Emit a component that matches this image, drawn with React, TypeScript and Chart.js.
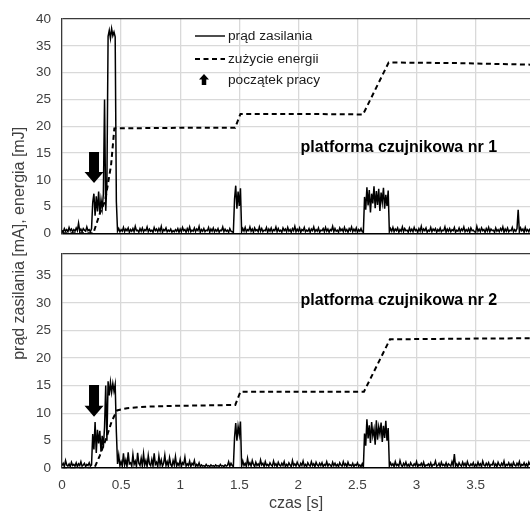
import React, { useEffect, useRef } from 'react';
import { Chart, registerables } from 'chart.js';

Chart.register(...registerables);

// ---------- DATA ----------
const SAMPLE_PERIOD_S = 0.01;

// supply current, platform 1 [mA], one sample every 10 ms from t = 0
const currentTop = [
  0.6, 0.2, 0.9, 0.4, 0.7, 0.3, 1.1, 0.5, 0.8, 0.3,
  0.7, 0.4, 1.0, 0.5, 1.9, 0.4, 0.8, 0.3, 0.9, 0.6,
  0.4, 1.2, 0.5, 0.7, 0.3, 0.9, 5.8, 7.4, 3.3, 6.9,
  4.1, 7.8, 3.6, 6.3, 4.6, 7.3, 25.0, 4.2, 9.5, 36.8,
  37.9, 36.4, 38.2, 36.9, 37.6, 36.7, 5.9, 0.4, 0.9, 0.3,
  0.7, 0.4, 1.1, 0.3, 0.8, 0.5, 1.0, 0.2, 0.7, 0.4,
  0.9, 0.3, 1.3, 0.5, 0.6, 0.2, 0.9, 0.4, 1.0, 0.3,
  0.7, 0.5, 1.2, 0.3, 0.8, 0.4, 0.6, 0.2, 1.1, 0.5,
  0.8, 0.3, 0.9, 0.4, 1.3, 0.2, 0.7, 0.5, 1.0, 0.3,
  0.6, 0.4, 0.8, 0.2, 0.5, 0.3, 0.7, 0.4, 0.9, 0.2,
  0.8, 0.3, 1.1, 0.5, 0.7, 0.2, 0.9, 0.4, 1.2, 0.3,
  0.6, 0.4, 1.0, 0.3, 0.8, 0.5, 1.3, 0.2, 0.7, 0.4,
  0.9, 0.3, 0.6, 0.5, 1.1, 0.2, 0.8, 0.4, 1.0, 0.3,
  0.7, 0.4, 0.9, 0.2, 0.6, 0.5, 1.2, 0.3, 0.8, 0.4,
  0.6, 0.2, 0.9, 0.4, 0.3, 0.2, 6.4, 8.9, 4.6, 7.8,
  5.1, 8.4, 0.3, 0.9, 0.4, 1.1, 0.3, 0.7, 0.5, 1.2,
  0.4, 0.8, 0.2, 1.0, 0.5, 0.7, 0.3, 1.2, 0.4, 0.9,
  0.3, 0.6, 0.5, 1.1, 0.2, 0.8, 0.4, 1.0, 0.3, 0.7,
  0.5, 1.2, 0.3, 0.9, 0.4, 0.6, 0.2, 1.0, 0.5, 0.8,
  0.3, 1.1, 0.4, 0.7, 0.2, 0.9, 0.5, 1.3, 0.3, 0.8,
  0.4, 1.0, 0.2, 0.7, 0.5, 1.1, 0.3, 0.6, 0.4, 0.9,
  0.2, 0.8, 0.5, 1.2, 0.3, 0.7, 0.4, 1.0, 0.2, 0.6,
  0.5, 0.9, 0.3, 1.1, 0.4, 0.8, 0.2, 0.7, 0.5, 1.3,
  0.3, 0.9, 0.4, 0.6, 0.2, 1.0, 0.5, 0.8, 0.3, 1.1,
  0.4, 0.7, 0.2, 0.9, 0.5, 1.2, 0.3, 0.8, 0.4, 1.0,
  0.2, 0.7, 0.4, 0.9, 0.3, 0.2, 6.8, 4.4, 8.6, 5.2,
  8.1, 3.9, 7.4, 5.6, 8.8, 4.7, 7.9, 5.3, 8.3, 4.2,
  7.6, 5.8, 8.5, 4.6, 7.2, 5.1, 8.0, 0.3, 0.9, 0.4,
  1.1, 0.3, 0.8, 0.5, 1.0, 0.2, 0.7, 0.4, 1.2, 0.3,
  0.9, 0.5, 0.6, 0.2, 1.0, 0.4, 0.8, 0.3, 1.1, 0.5,
  0.7, 0.2, 0.9, 0.4, 1.3, 0.3, 0.8, 0.5, 1.0, 0.2,
  0.6, 0.4, 1.1, 0.3, 0.8, 0.5, 0.9, 0.2, 0.7, 0.4,
  1.0, 0.3, 0.6, 0.5, 1.2, 0.2, 0.8, 0.4, 0.9, 0.3,
  0.7, 0.5, 1.1, 0.2, 0.6, 0.4, 1.0, 0.3, 0.8, 0.5,
  1.2, 0.3, 0.7, 0.4, 0.9, 0.2, 1.0, 0.5, 0.6, 0.3,
  0.2, 1.3, 0.4, 0.8, 0.3, 1.0, 0.5, 0.7, 0.2, 0.9,
  0.4, 1.1, 0.3, 0.8, 0.5, 0.6, 0.2, 1.0, 0.4, 0.7,
  0.3, 0.9, 0.5, 1.2, 0.2, 0.8, 0.4, 1.0, 0.3, 0.6,
  0.5, 1.1, 0.3, 0.7, 0.4, 0.9, 4.4, 0.3, 1.0, 0.5,
  0.8, 0.2, 1.1, 0.4, 0.7, 0.3, 0.9,
];

// supply current, platform 2 [mA], one sample every 10 ms from t = 0
const currentBottom = [
  0.5, 0.9, 0.3, 1.4, 0.6, 0.4, 0.8, 0.3, 1.1, 0.5,
  0.7, 0.4, 1.0, 0.3, 0.8, 0.5, 1.2, 0.4, 0.6, 0.9,
  0.3, 0.7, 0.5, 1.0, 0.4, 0.6, 6.2, 3.4, 8.4, 2.8,
  7.0, 4.5, 6.8, 3.0, 5.9, 3.8, 7.5, 15.0, 5.0, 15.8,
  13.2, 15.6, 13.8, 15.4, 14.0, 15.2, 6.6, 0.8, 2.4, 0.5,
  1.2, 0.4, 2.7, 0.6, 1.5, 0.3, 2.9, 0.8, 1.0, 0.4,
  2.5, 0.7, 1.3, 0.3, 2.8, 0.9, 0.5, 1.8, 0.4, 2.6,
  0.6, 1.4, 0.3, 2.3, 0.8, 0.5, 1.6, 0.4, 2.7, 0.7,
  1.1, 0.3, 2.2, 0.6, 1.5, 0.4, 0.9, 2.4, 0.5, 1.2,
  0.4, 1.9, 0.7, 0.3, 1.4, 0.6, 2.1, 0.4, 0.9, 0.5,
  1.6, 0.3, 1.0, 0.7, 2.0, 0.4, 0.8, 0.5, 1.3, 0.3,
  0.9, 0.6, 1.4, 0.3, 0.7, 0.4, 1.0, 0.3, 0.6, 0.4,
  0.5, 0.3, 0.7, 0.4, 0.5, 0.3, 0.6, 0.4, 0.5, 0.3,
  0.6, 0.4, 0.5, 0.3, 0.7, 0.4, 0.5, 0.3, 0.6, 0.4,
  0.5, 1.2, 0.4, 0.9, 0.5, 0.3, 5.6, 8.2, 5.0, 7.6,
  6.1, 8.5, 0.4, 1.3, 0.5, 0.9, 0.3, 1.8, 0.6, 1.0,
  0.4, 1.4, 0.7, 0.3, 1.1, 0.5, 0.8, 0.4, 1.5, 0.6,
  0.9, 0.3, 1.2, 0.5, 0.7, 0.4, 1.0, 0.6, 0.4, 1.3,
  0.5, 0.8, 0.3, 1.1, 0.6, 0.4, 0.9, 0.5, 1.2, 0.3,
  0.7, 0.4, 1.0, 0.6, 0.3, 1.4, 0.5, 0.8, 0.4, 1.1,
  0.6, 0.3, 0.9, 0.5, 1.3, 0.4, 0.7, 0.3, 1.0, 0.6,
  0.4, 1.2, 0.5, 0.8, 0.3, 1.1, 0.6, 0.4, 0.9, 0.5,
  1.0, 0.3, 0.7, 0.5, 1.2, 0.4, 0.8, 0.6, 0.3, 1.1,
  0.5, 0.9, 0.4, 0.7, 0.3, 1.0, 0.6, 0.4, 1.2, 0.5,
  0.8, 0.3, 1.1, 0.5, 0.6, 0.4, 0.9, 0.3, 0.7, 0.5,
  1.0, 0.4, 0.6, 0.3, 0.8, 0.2, 6.3, 4.1, 8.9, 5.4,
  7.8, 4.6, 8.4, 5.9, 7.1, 4.3, 8.7, 5.2, 7.5, 6.2,
  8.3, 4.8, 7.7, 5.5, 8.6, 5.0, 7.3, 0.4, 1.0, 0.5,
  0.8, 0.3, 1.2, 0.5, 0.7, 0.4, 1.4, 0.6, 0.3, 0.9,
  0.5, 1.1, 0.4, 0.7, 0.3, 1.0, 0.6, 0.4, 0.8, 0.5,
  1.2, 0.3, 0.7, 0.5, 0.9, 0.4, 1.1, 0.3, 0.6, 0.5,
  0.8, 0.4, 1.0, 0.3, 0.7, 0.6, 1.3, 0.4, 0.5, 0.9,
  0.3, 1.1, 0.5, 0.7, 0.4, 1.0, 0.3, 0.8, 0.6, 0.4,
  1.2, 0.5, 2.6, 0.4, 0.8, 0.3, 1.0, 0.6, 0.4, 1.1,
  0.5, 0.9, 0.3, 1.2, 0.6, 0.4, 0.8, 0.5, 1.0, 0.3,
  0.7, 0.4, 1.1, 0.5, 0.8, 0.3, 1.3, 0.6, 0.4, 0.9,
  0.5, 1.0, 0.3, 0.7, 0.6, 1.2, 0.4, 0.8, 0.3, 1.1,
  0.6, 0.4, 0.9, 0.5, 1.3, 0.3, 0.7, 0.5, 1.0, 0.4,
  0.8, 0.3, 1.1, 0.6, 0.4, 0.9, 0.5, 1.2, 0.3, 0.7,
  0.5, 1.0, 0.4, 0.8, 0.3, 1.1, 0.6,
];

// energy consumption [mJ]
const energyTopTime = [0, 0.265, 0.32, 0.365, 0.415, 0.443, 1.0, 1.465, 1.51, 2.0, 2.547, 2.764, 3.3, 3.96];
const energyTopValue = [0, 0, 3.7, 6.1, 12.7, 19.6, 19.7, 19.7, 22.3, 22.3, 22.2, 31.9, 31.8, 31.5];
const energyBottomTime = [0, 0.273, 0.32, 0.378, 0.42, 0.465, 0.55, 0.65, 0.8, 1.0, 1.2, 1.466, 1.51, 2.0, 2.555, 2.775, 3.3, 3.96];
const energyBottomValue = [0, 0, 2.3, 5.7, 8.5, 10.5, 10.9, 11.1, 11.25, 11.35, 11.4, 11.5, 13.9, 13.9, 13.9, 23.4, 23.5, 23.6];

// "początek pracy" markers (panel 1, panel 2)
const startTime = [0.271, 0.271];
const startArrowTip = [9.4, 9.35];
const startArrowTail = [15.2, 15.1];

// axes
const xTicks = [0, 0.5, 1, 1.5, 2, 2.5, 3, 3.5];
const yTopTicks = [0, 5, 10, 15, 20, 25, 30, 35, 40];
const yBottomTicks = [0, 5, 10, 15, 20, 25, 30, 35];
const X_MAX = 3.96;
const Y_TOP_MAX = 40;
const Y_BOTTOM_MAX = 39;

// texts
const legendLabels = ['prąd zasilania', 'zużycie energii', 'początek pracy'];
const panelLabels = ['platforma czujnikowa nr 1', 'platforma czujnikowa nr 2'];
const xTitle = 'czas [s]';
const yTitle = 'prąd zasilania [mA], energia [mJ]';

// ---------- STYLE ----------
const FONT = "'Liberation Sans', Arial, sans-serif";
const GRID = '#d9d9d9';
const FRAME = '#3a3a3a';
const TEXT = '#404040';

const sampleTimes = (n: number) =>
  Array.from({ length: n }, (_, i) => Math.round(i * SAMPLE_PERIOD_S * 100) / 100);
const toPoints = (ts: number[], vs: number[]) => ts.map((t, i) => ({ x: t, y: vs[i] }));

function downArrow(ctx: CanvasRenderingContext2D, cx: number, tailY: number, tipY: number,
  shaftW: number, headW: number, headH: number) {
  ctx.beginPath();
  ctx.moveTo(cx - shaftW / 2, tailY);
  ctx.lineTo(cx + shaftW / 2, tailY);
  ctx.lineTo(cx + shaftW / 2, tipY - headH);
  ctx.lineTo(cx + headW / 2, tipY - headH);
  ctx.lineTo(cx, tipY);
  ctx.lineTo(cx - headW / 2, tipY - headH);
  ctx.lineTo(cx - shaftW / 2, tipY - headH);
  ctx.closePath();
  ctx.fill();
}

function upArrow(ctx: CanvasRenderingContext2D, cx: number, tipY: number, tailY: number,
  shaftW: number, headW: number, headH: number) {
  ctx.beginPath();
  ctx.moveTo(cx, tipY);
  ctx.lineTo(cx + headW / 2, tipY + headH);
  ctx.lineTo(cx + shaftW / 2, tipY + headH);
  ctx.lineTo(cx + shaftW / 2, tailY);
  ctx.lineTo(cx - shaftW / 2, tailY);
  ctx.lineTo(cx - shaftW / 2, tipY + headH);
  ctx.lineTo(cx - headW / 2, tipY + headH);
  ctx.closePath();
  ctx.fill();
}

const overlayPlugin = {
  id: 'overlay',
  afterDatasetsDraw(chart: any) {
    const ctx: CanvasRenderingContext2D = chart.ctx;
    const xs = chart.scales.x;
    const axes = ['yTop', 'yBot'];
    ctx.save();
    ctx.fillStyle = '#000';
    axes.forEach((id, k) => {
      const ys = chart.scales[id];
      downArrow(ctx, xs.getPixelForValue(startTime[k]), ys.getPixelForValue(startArrowTail[k]),
        ys.getPixelForValue(startArrowTip[k]), 10, 19, 11);
    });
    // panel captions
    ctx.font = `bold 16px ${FONT}`;
    ctx.textAlign = 'center';
    ctx.textBaseline = 'middle';
    ctx.fillStyle = '#000';
    const capPos = [16.1, 30.5];
    axes.forEach((id, k) => {
      const ys = chart.scales[id];
      ctx.fillText(panelLabels[k], xs.getPixelForValue(2.85), ys.getPixelForValue(capPos[k]));
    });
    // legend
    const lx0 = 195, lx1 = 225, tx = 228;
    const rows = [36, 59, 80];
    ctx.strokeStyle = '#000';
    ctx.lineWidth = 1.4;
    ctx.setLineDash([]);
    ctx.beginPath(); ctx.moveTo(lx0, rows[0]); ctx.lineTo(lx1, rows[0]); ctx.stroke();
    ctx.lineWidth = 2;
    ctx.setLineDash([5, 3.5]);
    ctx.beginPath(); ctx.moveTo(lx0, rows[1]); ctx.lineTo(lx1, rows[1]); ctx.stroke();
    ctx.setLineDash([]);
    upArrow(ctx, 204, rows[2] - 6, rows[2] + 5, 4.5, 10, 5.5);
    ctx.font = `13.7px ${FONT}`;
    ctx.textAlign = 'left';
    ctx.fillStyle = '#1a1a1a';
    legendLabels.forEach((t, i) => ctx.fillText(t, tx, rows[i]));
    ctx.restore();
  },
};

const yCommon = (max: number, ticks: number[], weight: number, stackWeight: number) => ({
  type: 'linear' as const,
  position: 'left' as const,
  stack: 'panels',
  stackWeight,
  weight,
  min: 0,
  max,
  afterBuildTicks: (s: any) => { s.ticks = ticks.concat(ticks.includes(max) ? [] : [max]).map((v) => ({ value: v })); },
  afterFit: (s: any) => { s.width = 62; },
  grid: {
    drawTicks: false,
    color: (c: any) => (c.tick && c.tick.value === 0 ? '#000' : c.tick && c.tick.value === max ? FRAME : GRID),
    lineWidth: (c: any) => (c.tick && c.tick.value === 0 ? 1.6 : 1.3),
  },
  border: { display: true, color: FRAME, width: 1.3 },
  ticks: {
    autoSkip: false,
    padding: 11,
    color: TEXT,
    font: { family: FONT, size: 13.5 },
    callback: (v: any) => (ticks.includes(v) ? String(v) : ''),
  },
});

export default function App() {
  const ref = useRef<HTMLCanvasElement>(null);
  useEffect(() => {
    const chart = new Chart(ref.current as HTMLCanvasElement, {
      type: 'line',
      data: {
        datasets: [
          {
            label: legendLabels[1],
            data: toPoints(energyTopTime, energyTopValue),
            yAxisID: 'yTop', borderColor: '#000', borderWidth: 2, borderDash: [5, 3.5],
            pointRadius: 0, tension: 0,
          },
          {
            label: legendLabels[1] + ' 2',
            data: toPoints(energyBottomTime, energyBottomValue),
            yAxisID: 'yBot', borderColor: '#000', borderWidth: 2, borderDash: [5, 3.5],
            pointRadius: 0, tension: 0,
          },
          {
            label: legendLabels[0],
            data: toPoints(sampleTimes(currentTop.length), currentTop),
            yAxisID: 'yTop', borderColor: '#000', borderWidth: 1.5, pointRadius: 0, tension: 0,
          },
          {
            label: legendLabels[0] + ' 2',
            data: toPoints(sampleTimes(currentBottom.length), currentBottom),
            yAxisID: 'yBot', borderColor: '#000', borderWidth: 1.5, pointRadius: 0, tension: 0,
          },
        ],
      },
      options: {
        animation: false,
        responsive: false,
        devicePixelRatio: 1,
        layout: { padding: { top: 19, right: 0, bottom: 0, left: 0 } },
        plugins: { legend: { display: false }, tooltip: { enabled: false } },
        scales: {
          x: {
            type: 'linear',
            position: 'bottom',
            min: 0,
            max: X_MAX,
            afterBuildTicks: (s: any) => { s.ticks = xTicks.map((v) => ({ value: v })); },
            afterFit: (s: any) => { s.height = 44.7; },
            grid: {
              drawTicks: false,
              color: (c: any) => (c.tick && c.tick.value === 0 ? 'rgba(0,0,0,0)' : GRID),
              lineWidth: 1.3,
            },
            border: { display: false },
            ticks: { autoSkip: false, padding: 9, color: TEXT, font: { family: FONT, size: 13.5 }, callback: (v: any) => String(v) },
            title: { display: true, text: xTitle, color: TEXT, font: { family: FONT, size: 16 }, padding: { top: 0, bottom: 0 } },
          },
          yTop: yCommon(Y_TOP_MAX, yTopTicks, 3, 214.3),
          yGap: {
            type: 'linear',
            position: 'left',
            stack: 'panels',
            stackWeight: 20,
            weight: 2,
            min: 0,
            max: 1,
            afterFit: (s: any) => { s.width = 62; },
            grid: { display: false, drawTicks: false },
            border: { display: false },
            ticks: { display: false },
            title: { display: true, text: yTitle, color: TEXT, font: { family: FONT, size: 16 }, padding: { top: 10, bottom: 0 } },
          },
          yBot: yCommon(Y_BOTTOM_MAX, yBottomTicks, 1, 215),
        },
      } as any,
      plugins: [overlayPlugin],
    });
    return () => chart.destroy();
  }, []);
  return (
    <div style={{ position: 'fixed', left: 0, top: 0, width: 530, height: 513, background: '#fff' }}>
      <canvas ref={ref} width={530} height={513} style={{ display: 'block', width: 530, height: 513 }} />
    </div>
  );
}
